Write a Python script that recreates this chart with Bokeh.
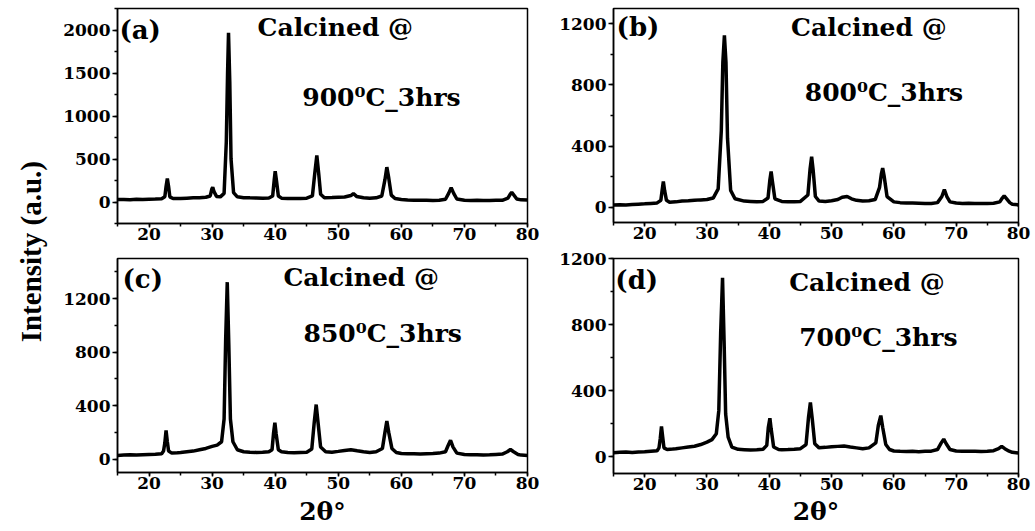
import math
from bokeh.plotting import figure
from bokeh.layouts import row, column
from bokeh.models import Range1d, SingleIntervalTicker, Label
from bokeh.embed import file_html
from bokeh.resources import INLINE

# ---------------- data ----------------
x_900 = [15, 16, 17, 18, 19, 20, 21, 22, 22.5, 22.7,
         22.9, 23.1, 23.3, 23.8, 25, 26, 27, 28, 29, 29.7,
         29.95, 30.1, 30.3, 30.7, 31.3, 31.9, 32.25, 32.45, 32.6, 32.8,
         33.0, 33.4, 34, 35, 36, 37, 38, 39, 39.6, 39.85,
         40.0, 40.2, 40.5, 41, 42, 43, 44, 45, 45.9, 46.3,
         46.6, 46.9, 47.2, 47.8, 49, 50, 51, 52, 52.4, 52.9,
         54, 55, 56, 56.9, 57.4, 57.7, 58.0, 58.4, 59, 60,
         61, 62, 63, 64, 65, 66, 67, 67.5, 67.9, 68.3,
         68.8, 70, 71, 72, 73, 74, 75, 76, 76.9, 77.25,
         77.5, 77.8, 78.3, 79, 80]
y_900 = [28, 30, 27, 32, 30, 33, 35, 38, 60, 180,
         273, 180, 60, 40, 42, 45, 48, 50, 55, 70,
         150, 172, 120, 65, 60, 100, 700, 1500, 1968, 1400,
         500, 110, 60, 50, 48, 47, 45, 47, 70, 260,
         358, 250, 70, 45, 42, 40, 42, 45, 70, 350,
         541, 330, 90, 50, 52, 55, 58, 75, 98, 65,
         50, 45, 48, 70, 260, 405, 280, 80, 40, 30,
         22, 20, 20, 19, 18, 20, 32, 100, 165, 100,
         35, 20, 18, 19, 18, 17, 19, 20, 45, 90,
         114, 85, 35, 25, 22]

x_800 = [15, 16, 17, 18, 19, 20, 21, 22, 22.6, 22.8,
         23.0, 23.2, 23.5, 24, 25, 26, 27, 28, 29, 30,
         31, 31.8, 32.3, 32.55, 32.8, 33.05, 33.3, 33.8, 34.5, 36,
         37, 38, 39, 39.8, 40.1, 40.3, 40.5, 40.9, 42, 43,
         44, 45, 46.2, 46.55, 46.8, 47.05, 47.4, 48, 49, 50,
         51, 51.7, 52.5, 53.2, 54, 55, 56, 57, 57.7, 58.0,
         58.2, 58.45, 58.9, 60, 61, 62, 63, 64, 65, 66,
         67, 67.7, 68.1, 68.5, 69, 70, 71, 72, 73, 74,
         75, 76, 77, 77.4, 77.7, 78.1, 78.6, 79, 80]
y_800 = [14, 16, 15, 18, 20, 22, 25, 28, 45, 110,
         169, 110, 45, 32, 35, 40, 42, 45, 48, 50,
         60, 120, 500, 950, 1124, 950, 450, 110, 55, 40,
         38, 36, 38, 60, 180, 234, 170, 55, 38, 36,
         35, 38, 80, 250, 331, 240, 70, 40, 38, 42,
         50, 65, 70, 55, 45, 40, 42, 50, 130, 220,
         256, 200, 70, 35, 30, 28, 27, 26, 25, 24,
         30, 70, 115, 70, 35, 27, 25, 26, 25, 24,
         25, 26, 35, 60, 75, 55, 30, 20, 15]

x_850 = [15, 16, 17, 18, 19, 20, 21, 22, 22.3, 22.5,
         22.7, 22.9, 23.1, 23.6, 24.5, 25, 26, 27, 28, 29,
         30, 30.8, 31.5, 31.9, 32.15, 32.4, 32.65, 32.9, 33.3, 34,
         35, 36, 37, 38, 39, 39.5, 39.75, 39.95, 40.15, 40.5,
         41, 42, 43, 44, 45, 45.8, 46.2, 46.5, 46.8, 47.2,
         48, 49, 50, 51, 52, 53, 54, 55, 56, 57.0,
         57.4, 57.7, 58.0, 58.5, 59.2, 60, 61, 62, 63, 64,
         65, 66, 67, 67.4, 67.8, 68.2, 68.8, 70, 71, 72,
         73, 74, 75, 76, 76.8, 77.3, 77.8, 78.5, 79, 80]
y_850 = [28, 30, 32, 30, 33, 35, 36, 40, 60, 120,
         215, 130, 60, 45, 48, 50, 55, 60, 70, 80,
         95, 105, 130, 300, 900, 1323, 850, 300, 130, 70,
         55, 52, 50, 52, 55, 70, 200, 272, 190, 70,
         55, 50, 48, 50, 52, 75, 280, 408, 270, 90,
         55, 52, 58, 65, 70, 62, 55, 50, 55, 80,
         200, 284, 200, 80, 50, 42, 40, 40, 38, 40,
         42, 45, 55, 100, 141, 90, 45, 35, 33, 32,
         30, 32, 35, 38, 55, 72, 55, 35, 30, 28]

x_700 = [15, 16, 17, 18, 19, 20, 21, 22, 22.3, 22.5,
         22.7, 22.9, 23.1, 23.6, 24.5, 25, 26, 27, 28, 29,
         30, 30.8, 31.5, 31.9, 32.2, 32.5, 32.75, 33.0, 33.4, 34,
         35, 36, 37, 38, 39, 39.6, 39.85, 40.1, 40.3, 40.7,
         41.5, 42, 43, 44, 45, 45.9, 46.3, 46.6, 46.9, 47.3,
         48, 49, 50, 51, 52, 53, 54, 55, 56, 57.1,
         57.5, 57.9, 58.2, 58.7, 59.3, 60, 61, 62, 63, 64,
         65, 66, 67, 67.6, 68.0, 68.4, 69, 70, 71, 72,
         73, 74, 75, 76, 76.8, 77.3, 77.8, 78.5, 79, 80]
y_700 = [25, 28, 30, 27, 30, 32, 35, 38, 55, 110,
         184, 120, 55, 45, 48, 50, 55, 60, 65, 75,
         90, 105, 140, 280, 750, 1084, 700, 260, 120, 60,
         46, 44, 42, 44, 47, 70, 180, 234, 170, 60,
         45, 44, 45, 47, 50, 75, 240, 330, 230, 80,
         55, 58, 62, 64, 66, 60, 55, 50, 55, 85,
         190, 250, 180, 75, 45, 36, 34, 33, 34, 32,
         34, 35, 45, 85, 108, 80, 45, 36, 34, 35,
         34, 33, 34, 38, 50, 64, 50, 35, 28, 24]

panel_tags = ["(a)", "(b)", "(c)", "(d)"]
temp_labels = ["900\u2070C_3hrs", "800\u2070C_3hrs", "850\u2070C_3hrs", "700\u2070C_3hrs"]
calc_label = "Calcined @"
y_label = "Intensity (a.u.)"
x_label = "2\u03b8\u00b0"

FONT = "DejaVu Serif"


def make_panel(xs, ys, yr, ystep, w, h, ml, mr, mt, mb, tag, temp, pos,
               xlab=None, xlab_standoff=0):
    p = figure(width=w, height=h, output_backend="svg", toolbar_location=None,
               x_range=Range1d(15, 80), y_range=Range1d(*yr),
               min_border_left=ml, min_border_right=mr,
               min_border_top=mt, min_border_bottom=mb)
    p.line(xs, ys, line_color="black", line_width=3.5)
    p.grid.visible = False
    p.outline_line_color = "black"
    p.outline_line_width = 1.5
    p.outline_line_alpha = 1.0
    p.background_fill_color = "white"
    p.border_fill_color = "white"
    p.xaxis.ticker = SingleIntervalTicker(interval=10, num_minor_ticks=2)
    p.yaxis.ticker = SingleIntervalTicker(interval=ystep, num_minor_ticks=2)
    for ax in (p.xaxis[0], p.yaxis[0]):
        ax.major_label_text_font = FONT
        ax.major_label_text_font_style = "bold"
        ax.major_label_text_font_size = "17px"
        ax.major_label_text_color = "black"
        ax.axis_line_color = "black"
        ax.axis_line_width = 1.5
        ax.major_tick_line_color = "black"
        ax.minor_tick_line_color = "black"
        ax.major_tick_line_width = 1.5
        ax.minor_tick_line_width = 1.5
        ax.major_tick_in = 0
        ax.major_tick_out = 5
        ax.minor_tick_in = 0
        ax.minor_tick_out = 3
    p.xaxis.major_tick_out = 4
    p.xaxis.major_label_standoff = 0
    p.yaxis.major_label_standoff = 2
    if xlab:
        p.xaxis.axis_label = xlab
        p.xaxis.axis_label_text_font = FONT
        p.xaxis.axis_label_text_font_style = "bold"
        p.xaxis.axis_label_text_font_size = "25px"
        p.xaxis.axis_label_text_color = "black"
        p.xaxis.axis_label_standoff = xlab_standoff
    (tx, ty), (cx, cy), (mx, my) = pos
    p.add_layout(Label(x=tx, y=ty, text=tag, text_font=FONT, text_font_style="bold",
                       text_font_size="26px", text_baseline="middle", text_align="left",
                       text_color="black"))
    p.add_layout(Label(x=cx, y=cy, text=calc_label, text_font=FONT, text_font_style="bold",
                       text_font_size="25px", text_baseline="alphabetic", text_align="left",
                       text_color="black"))
    p.add_layout(Label(x=mx, y=my, text=temp, text_font=FONT, text_font_style="bold",
                       text_font_size="25px", text_baseline="alphabetic", text_align="left",
                       text_color="black"))
    return p


pa = make_panel(x_900, y_900, (-250, 2250), 500, 480, 255, 57, 13, 8, 32,
                panel_tags[0], temp_labels[0],
                ((15.3, 2000), (37.2, 2028), (44.3, 1210)))
pb = make_panel(x_800, y_800, (-100, 1300), 400, 495, 247, 69, 17, 8, 25,
                panel_tags[1], temp_labels[1],
                ((15.5, 1182), (43.5, 1175), (45.7, 750)))
pc = make_panel(x_850, y_850, (-100, 1500), 400, 480, 276, 57, 13, 3, 59,
                panel_tags[2], temp_labels[2],
                ((15.8, 1350), (41.3, 1358), (44.5, 939)), xlab=x_label, xlab_standoff=5)
pd = make_panel(x_700, y_700, (-100, 1200), 400, 495, 284, 73, 13, 11, 58,
                panel_tags[3], temp_labels[3],
                ((15.3, 1067), (43.2, 1055), (44.8, 722)), xlab=x_label, xlab_standoff=4)

lab = figure(width=60, height=531, output_backend="svg", toolbar_location=None,
             x_range=Range1d(0, 1), y_range=Range1d(0, 1),
             x_axis_type=None, y_axis_type=None, min_border=0)
lab.grid.visible = False
lab.outline_line_color = None
lab.add_layout(Label(x=0.5, y=0.527, text=y_label, angle=math.pi / 2,
                     text_align="center", text_baseline="middle",
                     text_font="Liberation Serif", text_font_style="bold",
                     text_font_size="29px", text_color="black"))

layout = row(lab, column(pa, pc), column(pb, pd))

open("out.html", "w").write(file_html(layout, INLINE))
